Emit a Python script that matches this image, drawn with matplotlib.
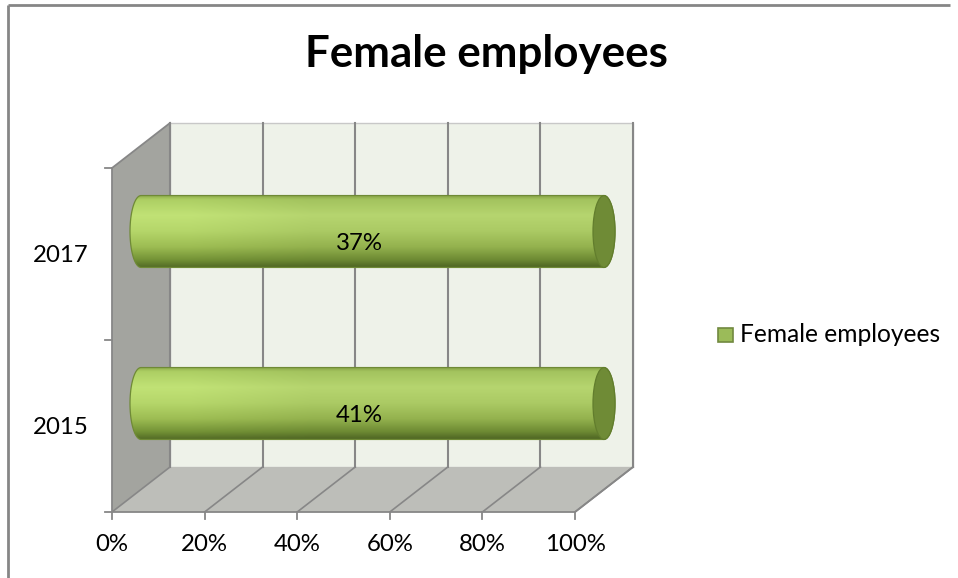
import numpy as np
import matplotlib
matplotlib.use("Agg")
import matplotlib.pyplot as plt
from matplotlib.patches import Polygon, Rectangle, Ellipse, PathPatch
from matplotlib.path import Path
from matplotlib.colors import to_rgb

# ---------------- data ----------------
title = "Female employees"
series_name = "Female employees"
categories = ["2015", "2017"]
values = [0.41, 0.37]          # data labels shown on the bars
value_labels = ["41%", "37%"]
x_ticks = [0.0, 0.2, 0.4, 0.6, 0.8, 1.0]
x_tick_labels = ["0%", "20%", "40%", "60%", "80%", "100%"]

# 100% stacked with a single series -> each bar fills the full share
shares = [v / v for v in values]

# ---------------- layout / style ----------------
W, H = 958, 578
DPI = 100
DX, DY = 58.0, 45.0            # depth offset of back wall (px)
CAP_RX = 11.0                  # horizontal semi-axis of cylinder caps (px)
BAR_R = 0.209                  # cylinder radius in category units
FONT = "Lato"
LBL_FS = 17.3

fig = plt.figure(figsize=(W / DPI, H / DPI), dpi=DPI)
fig.patch.set_facecolor("white")

ov = fig.add_axes([0, 0, 1, 1], zorder=0)
ov.set_xlim(0, W)
ov.set_ylim(0, H)
ov.axis("off")

fx0, fx1 = 112, 575
fy_top, fy_bot = 168, 512
ax = fig.add_axes([fx0 / W, (H - fy_bot) / H, (fx1 - fx0) / W, (fy_bot - fy_top) / H], zorder=2)
ax.patch.set_alpha(0)
ax.set_xlim(0, 1)
ax.set_ylim(0, len(categories))
for s in ax.spines.values():
    s.set_visible(False)


def proj(v, c, d):
    p = ax.transData.transform((v, c))
    return np.array([p[0] + d * DX, p[1] + d * DY])


grid_col = "#878787"
back = Polygon([proj(0, 0, 1), proj(1, 0, 1), proj(1, 2, 1), proj(0, 2, 1)],
               closed=True, facecolor="#EEF2E9", edgecolor="#C8C8C8", lw=1.0, zorder=1)
ov.add_patch(back)
left = Polygon([proj(0, 0, 0), proj(0, 2, 0), proj(0, 2, 1), proj(0, 0, 1)],
               closed=True, facecolor="#A3A49F", edgecolor="none", zorder=2)
ov.add_patch(left)
floor = Polygon([proj(0, 0, 0), proj(1, 0, 0), proj(1, 0, 1), proj(0, 0, 1)],
                closed=True, facecolor="#BDBEB9", edgecolor="none", zorder=2)
ov.add_patch(floor)

for v in x_ticks:
    a, b = proj(v, 0, 1), proj(v, 2, 1)
    ov.plot([a[0], b[0]], [a[1], b[1]], color=grid_col, lw=1.5, zorder=3)
    a, b = proj(v, 0, 0), proj(v, 0, 1)
    ov.plot([a[0], b[0]], [a[1], b[1]], color=grid_col, lw=1.2, zorder=3)

edges = [
    (proj(0, 0, 0), proj(0, 2, 0)),
    (proj(0, 2, 0), proj(0, 2, 1)),
    (proj(0, 0, 0), proj(1, 0, 0)),
    (proj(1, 0, 0), proj(1, 0, 1)),
    (proj(0, 0, 1), proj(0, 2, 1)),
]
for a, b in edges:
    ov.plot([a[0], b[0]], [a[1], b[1]], color=grid_col, lw=1.3, zorder=3)

for c in range(len(categories) + 1):
    p = proj(0, c, 0)
    ov.plot([p[0] - 7, p[0]], [p[1], p[1]], color=grid_col, lw=1.3, zorder=3)
for v in x_ticks:
    p = proj(v, 0, 0)
    ov.plot([p[0], p[0]], [p[1] - 7, p[1]], color=grid_col, lw=1.3, zorder=3)

# ---- cylinders ----
stops = [(0.0, "#86A246"), (0.06, "#A3C35E"), (0.28, "#B6D56F"), (0.5, "#ABCA64"),
         (0.72, "#94B24E"), (0.9, "#6D8A33"), (1.0, "#4F6624")]
N = 200
t = np.linspace(0, 1, N)
grad = np.zeros((N, 1, 3))
for k in range(3):
    grad[:, 0, k] = np.interp(t, [s[0] for s in stops], [to_rgb(s[1])[k] for s in stops])

renderer = fig.canvas.get_renderer()

for i, (cat, share, lab) in enumerate(zip(categories, shares, value_labels)):
    c = i + 0.5
    L = proj(0, c, 0.5)
    R = proj(share, c, 0.5)
    ry = proj(0, c + BAR_R, 0.5)[1] - L[1]
    cy = L[1]
    th_l = np.linspace(np.pi / 2, 3 * np.pi / 2, 60)
    th_r = np.linspace(-np.pi / 2, np.pi / 2, 60)
    pts = [(L[0] + CAP_RX * np.cos(a), cy + ry * np.sin(a)) for a in th_l]
    pts += [(R[0] + CAP_RX * np.cos(a), cy + ry * np.sin(a)) for a in th_r]
    body_path = Path(np.array(pts + [pts[0]]), closed=True)
    body = PathPatch(body_path, facecolor="none", edgecolor="#6F8A36", lw=0.9, zorder=6)
    ov.add_patch(body)
    img2 = np.repeat(grad, 4, axis=1)
    img2[:, 0, :] = np.clip(img2[:, 0, :] * 1.06, 0, 1)
    im = ov.imshow(img2, extent=[L[0] - CAP_RX, R[0] + CAP_RX, cy - ry, cy + ry],
                   origin="upper", aspect="auto", interpolation="bilinear", zorder=5)
    im.set_clip_path(body)
    cap = Ellipse((R[0], cy), 2 * CAP_RX, 2 * ry, facecolor="#6F8B36",
                  edgecolor="#627D2D", lw=0.9, zorder=7)
    ov.add_patch(cap)
    pl = proj(0.5, c, 0.28)
    ov.text(pl[0], pl[1] - 2, lab, ha="center", va="center", fontsize=LBL_FS,
            family=FONT, color="black", zorder=8)

ov.set_xlim(0, W)
ov.set_ylim(0, H)

# ---- axis tick labels ----
ax.set_xticks(x_ticks)
ax.set_xticklabels(x_tick_labels)
ax.tick_params(axis="x", length=0, pad=16, labelsize=LBL_FS)
ax.set_yticks([i + 0.5 for i in range(len(categories))])
ax.set_yticklabels(categories)
ax.tick_params(axis="y", length=0, pad=17, labelsize=LBL_FS)
for lbl in ax.get_xticklabels() + ax.get_yticklabels():
    lbl.set_family(FONT)

# ---- title ----
ttl = ov.text(486, H - 67, title, ha="center", va="baseline", fontsize=30,
              fontweight="bold", family=FONT, zorder=8)
w = ttl.get_window_extent(renderer).width
ttl.set_fontsize(30 * 363 / w)

# ---- legend ----
ov.add_patch(Rectangle((718, H - 342), 15, 14, facecolor="#9BBB59", edgecolor="#71893F", lw=1.2, zorder=8))
lt = ov.text(740, H - 335, series_name, ha="left", va="center", fontsize=15.5, family=FONT, zorder=8)
w = lt.get_window_extent(renderer).width
lt.set_fontsize(15.5 * 200 / w)

# ---- chart border (partially visible) ----
ov.plot([8, 8], [0, H - 5], color="#868686", lw=2, zorder=9, solid_capstyle="butt")
ov.plot([8, 950], [H - 5, H - 5], color="#868686", lw=2, zorder=9, solid_capstyle="butt")

fig.savefig("out.png", dpi=DPI)
